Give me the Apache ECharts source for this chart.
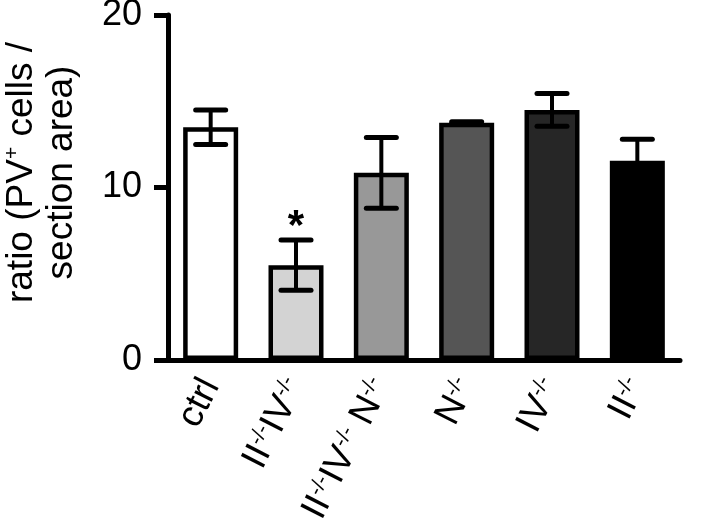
<!DOCTYPE html>
<html>
<head>
<meta charset="utf-8">
<script src="https://cdn.jsdelivr.net/npm/echarts@6/dist/echarts.min.js"></script>
<style>html,body{margin:0;padding:0;background:#fff;}#c{width:720px;height:530px;}</style>
</head>
<body>
<div id="c"></div>
<script>
const categories = ['ctrl', 'II-/-IV-/-', 'II-/-IV-/- N-/-', 'N-/-', 'IV-/-', 'II-/-'];
const means = [13.5, 5.5, 10.85, 13.75, 14.5, 11.55];
const errors = [1.0, 1.45, 2.05, 0.06, 0.95, 1.25];
const barColors = ['#ffffff', '#d3d3d3', '#989898', '#555555', '#262626', '#000000'];
const sigMarks = ['', '*', '', '', '', ''];
const yTicks = [0, 10, 20];

const FONT = 'Liberation Sans, Arial, Helvetica, sans-serif';

function richLabel(s) {
  return s.split(/(-\/-)/).filter(p => p.length).map(p => p === '-/-' ? '{s|-/-}' : '{a|' + p + '}').join('');
}

const chart = echarts.init(document.getElementById('c'), null, {renderer: 'canvas'});
chart.setOption({
  backgroundColor: '#ffffff',
  animation: false,
  grid: {left: 168, right: 40, top: 15, bottom: 170, containLabel: false, outerBoundsMode: 'none'},
  xAxis: {
    type: 'category',
    data: categories,
    axisLine: {show: true, lineStyle: {color: '#000', width: 5}},
    axisTick: {show: false},
    axisLabel: {
      rotate: 63,
      margin: 21,
      interval: 0,
      formatter: v => richLabel(v),
      rich: {
        a: {fontFamily: FONT, fontSize: 37, color: '#000'},
        s: {fontFamily: FONT, fontSize: 21, color: '#000', verticalAlign: 'top'}
      }
    },
    splitLine: {show: false}
  },
  yAxis: {
    type: 'value',
    min: yTicks[0],
    max: yTicks[yTicks.length - 1],
    interval: yTicks[1] - yTicks[0],
    axisLine: {show: true, lineStyle: {color: '#000', width: 5}},
    axisTick: {show: true, length: 14, lineStyle: {color: '#000', width: 5}},
    axisLabel: {margin: 26, fontFamily: FONT, fontSize: 36, color: '#000'},
    splitLine: {show: false},
    name: 'ratio (PV{sup|+} cells /\nsection area)',
    nameLocation: 'middle',
    nameRotate: 90,
    nameGap: 86,
    nameTextStyle: {
      fontFamily: FONT, fontSize: 37, color: '#000', lineHeight: 40,
      padding: [0, 0, 0, 30],
      rich: {sup: {fontFamily: FONT, fontSize: 21, color: '#000', verticalAlign: 'top'}}
    }
  },
  series: [
    {
      type: 'bar',
      barWidth: 55,
      data: means.map((m, i) => ({value: m, itemStyle: {color: barColors[i]}})),
      itemStyle: {borderColor: '#000', borderWidth: 4.5},
      z: 2
    },
    {
      type: 'custom',
      z: 3,
      data: means.map((m, i) => [i, m, errors[i], sigMarks[i]]),
      renderItem: function (params, api) {
        const i = api.value(0), m = api.value(1), e = api.value(2);
        const top = api.coord([i, m + e]);
        const bot = api.coord([i, m - e]);
        const hw = 15;
        const children = [
          {type: 'line', shape: {x1: top[0], y1: top[1], x2: bot[0], y2: bot[1]}, style: {stroke: '#000', lineWidth: 4}},
          {type: 'line', shape: {x1: top[0] - hw, y1: top[1], x2: top[0] + hw, y2: top[1]}, style: {stroke: '#000', lineWidth: 5, lineCap: 'round'}},
          {type: 'line', shape: {x1: bot[0] - hw, y1: bot[1], x2: bot[0] + hw, y2: bot[1]}, style: {stroke: '#000', lineWidth: 5, lineCap: 'round'}}
        ];
        const mark = sigMarks[params.dataIndex];
        if (mark) {
          children.push({type: 'text', style: {text: mark, x: top[0], y: top[1] + 8, align: 'center', verticalAlign: 'bottom', fontFamily: FONT, fontSize: 42, fontWeight: 'bold', fill: '#000'}});
        }
        return {type: 'group', children: children};
      }
    }
  ]
});
</script>
</body>
</html>
